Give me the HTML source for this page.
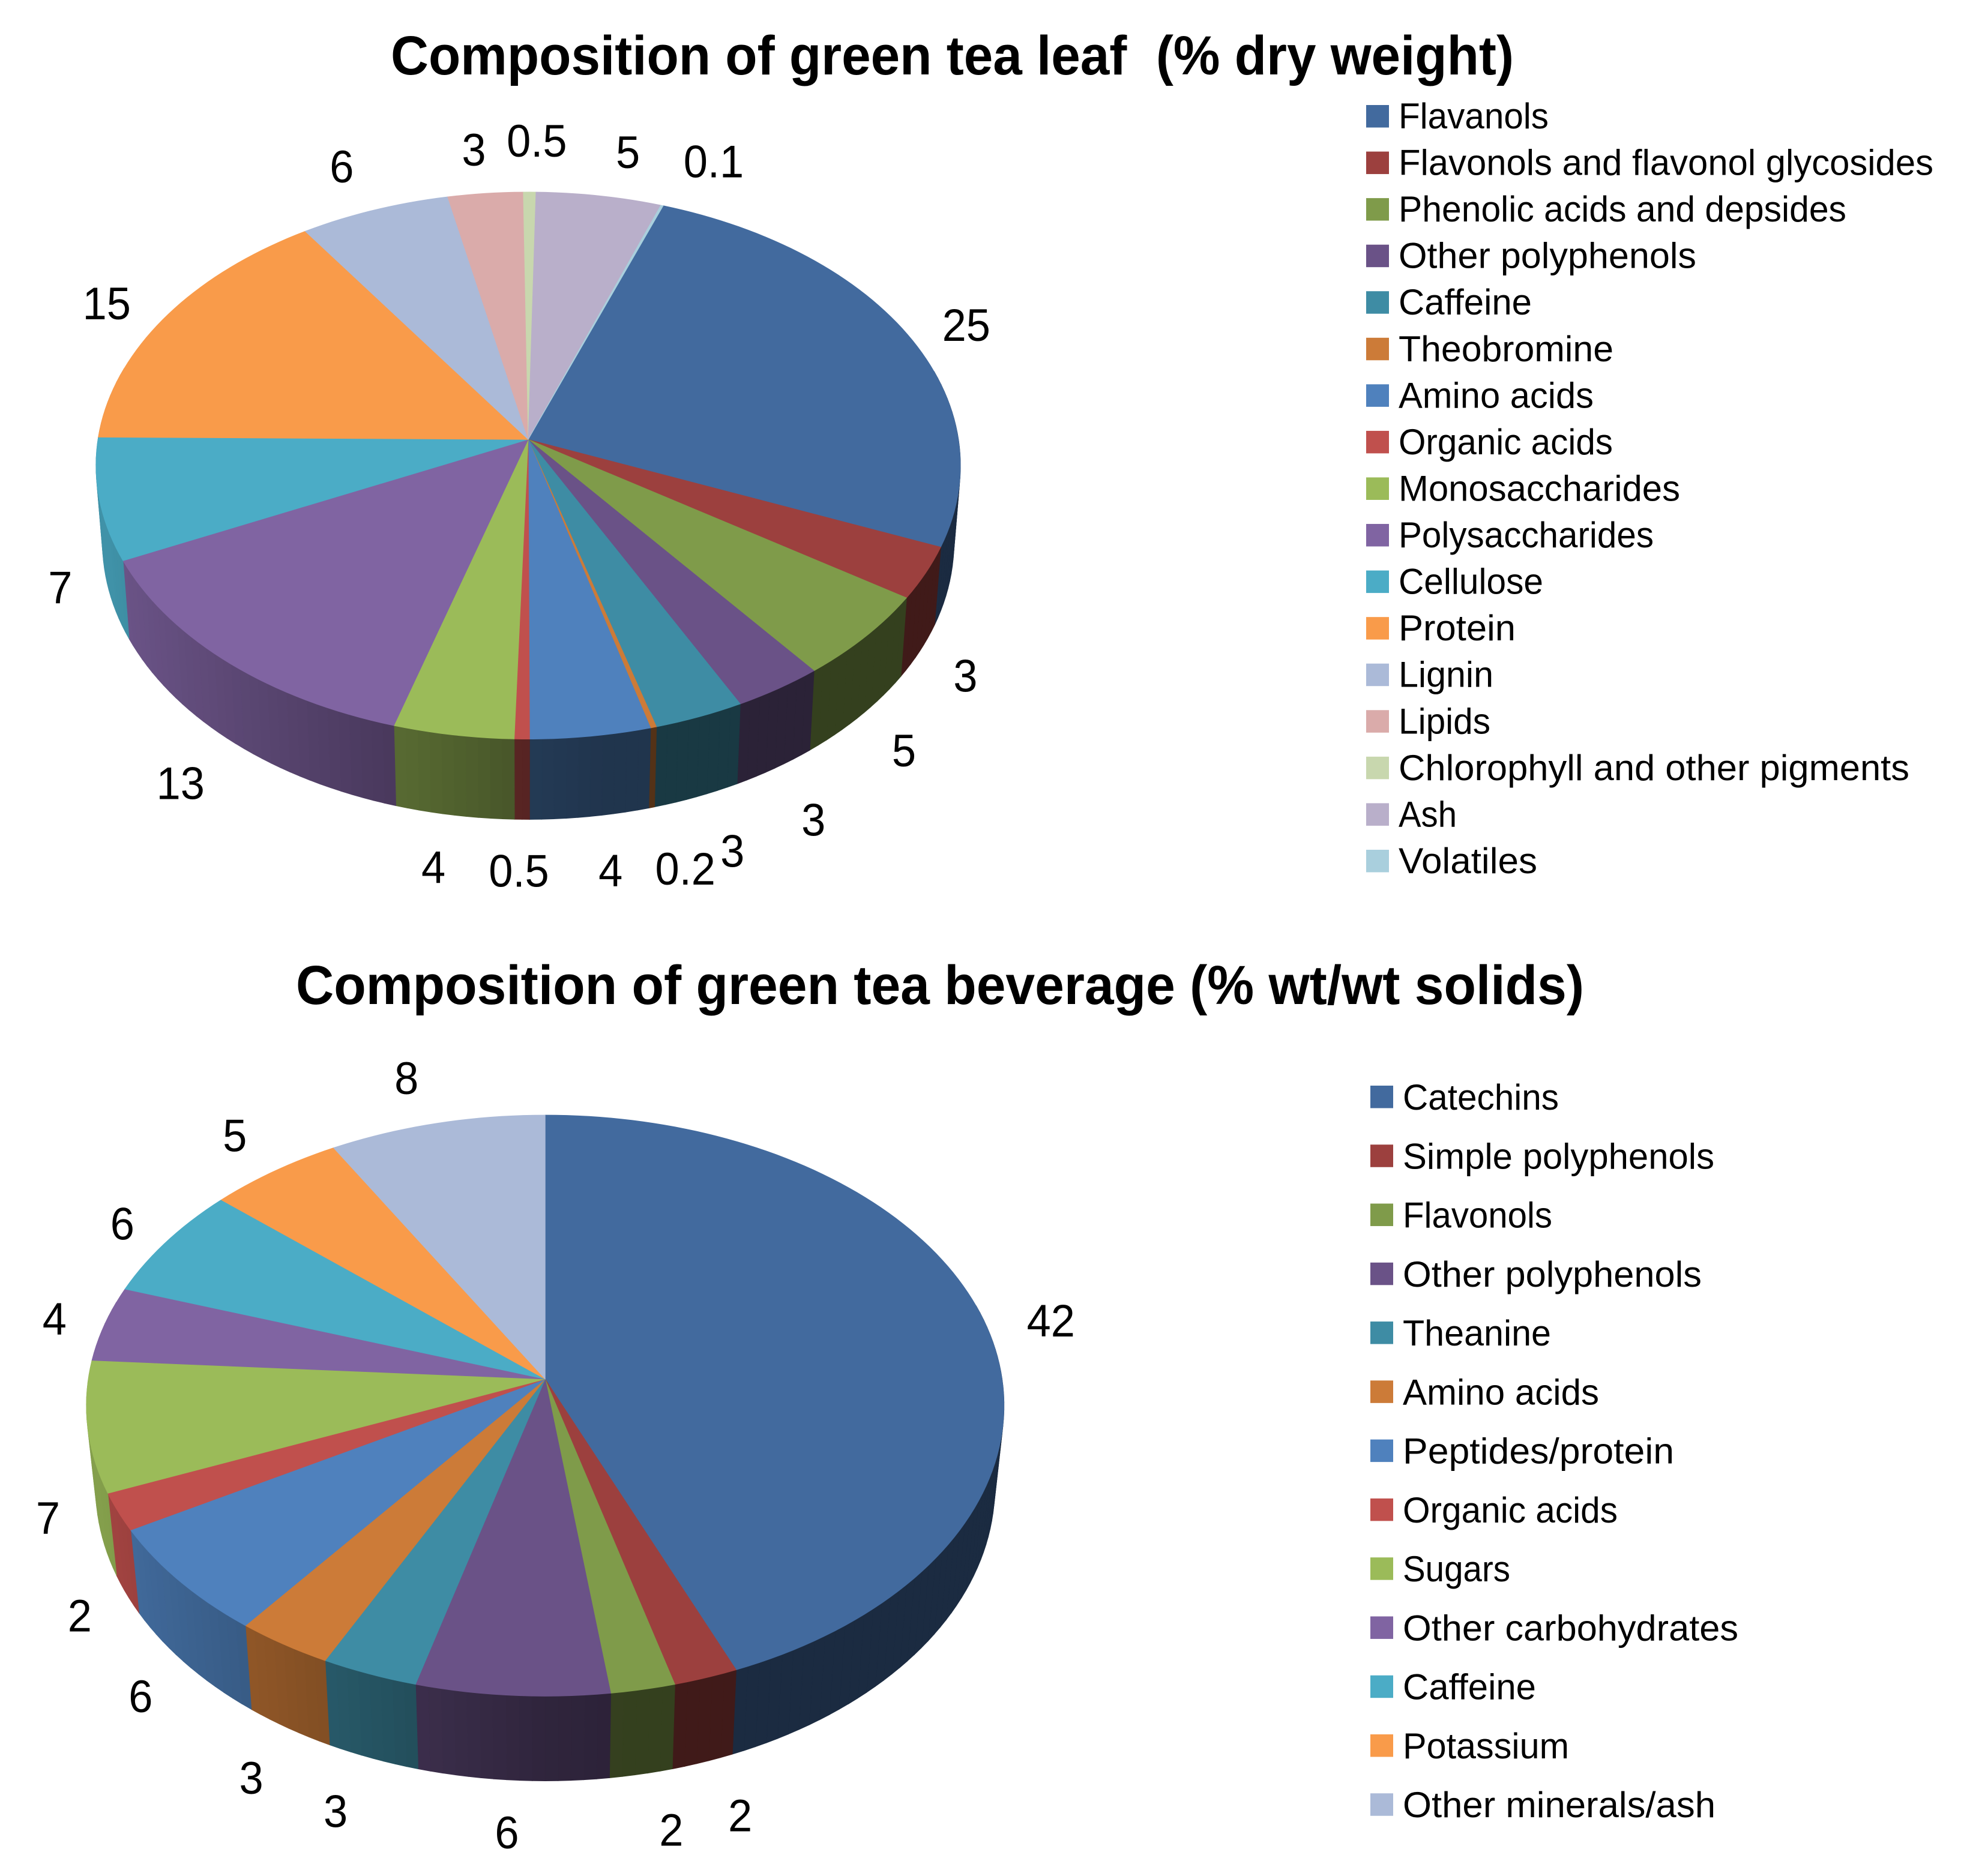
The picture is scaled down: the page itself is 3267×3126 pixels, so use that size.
<!DOCTYPE html>
<html lang="en">
<head>
<meta charset="utf-8">
<title>Composition of green tea</title>
<style>
html,body{margin:0;padding:0;background:#fff;width:3267px;height:3126px;overflow:hidden}
svg{display:block}
text{font-family:"Liberation Sans",sans-serif;fill:#000;white-space:pre}
.title{font-size:92px;font-weight:bold}
.lab{font-size:76px;text-anchor:middle}
.leg{font-size:60px}
</style>
</head>
<body>
<svg id="chart" xmlns="http://www.w3.org/2000/svg" width="3267" height="3126" viewBox="0 0 3267 3126">
  <rect width="3267" height="3126" fill="#ffffff"/>
  <text class="title" x="651" y="124" textLength="1871" lengthAdjust="spacingAndGlyphs">Composition of green tea leaf  (% dry weight)</text>
  <text class="title" x="493" y="1673" textLength="2146" lengthAdjust="spacingAndGlyphs">Composition of green tea beverage (% wt/wt solids)</text>
  <g id="leaf-pie"></g>
  <g id="leaf-legend"></g>
  <g id="bev-pie"></g>
  <g id="bev-legend"></g>
</svg>
<script>
const leafCategories = ["Flavanols","Flavonols and flavonol glycosides","Phenolic acids and depsides","Other polyphenols","Caffeine","Theobromine","Amino acids","Organic acids","Monosaccharides","Polysaccharides","Cellulose","Protein","Lignin","Lipids","Chlorophyll and other pigments","Ash","Volatiles"];
const leafValues = [25,3,5,3,3,0.2,4,0.5,4,13,7,15,6,3,0.5,5,0.1];
const beverageCategories = ["Catechins","Simple polyphenols","Flavonols","Other polyphenols","Theanine","Amino acids","Peptides/protein","Organic acids","Sugars","Other carbohydrates","Caffeine","Potassium","Other minerals/ash"];
const beverageValues = [42,2,2,6,3,3,6,2,7,4,6,5,8];
const seriesColors = ["#426a9e","#9c403e","#7f9b4a","#6a5287","#3e8ca4","#cc7b38","#4f81bd","#c0504d","#9bbb59","#8064a2","#4bacc6","#f99b4a","#abbad8","#daabaa","#c8d7ae","#b9afca","#a9cfdd"];

const leafLabelOffsets = [[98,-16],[66,171],[64,189],[58,218],[55,223],[53,235],[33,223],[-5,219],[-33,220],[-77,202],[-65,146],[-98,-23],[-54,-73],[-19,-73],[12,-86],[48,-73],[86,-74]];
const bevLabelOffsets = [[109,-6],[57,229],[47,233],[-9,228],[-56,228],[-54,222],[-65,191],[-64,172],[-66,151],[-84,-9],[-74,-30],[-66,-60],[-50,-76]];
const leafLegendWidths = [250,891,746,496,222,358,325,357,469,425,241,195,158,153,851,97,231];
const bevLegendWidths = [260,519,249,498,247,327,452,358,179,559,222,277,521];

const NS = "http://www.w3.org/2000/svg";
const slug = s => s.toLowerCase().replace(/[^a-z0-9]+/g,"-");

function shade(hex, f){
  const n = parseInt(hex.slice(1),16);
  const c = [n>>16&255, n>>8&255, n&255].map(v=>Math.round(v*f));
  return "rgb("+c.join(",")+")";
}

function sideFactor(u){
  if(u<0) return Math.min(0.85,0.45-0.42*u);
  return Math.max(0.41,0.45-0.25*u);
}

function drawPie(root, geo, categories, values, offsets){
  const total = values.reduce((a,b)=>a+b,0);
  const project = deg => {
    const t = deg*Math.PI/180, u = Math.sin(t), v = -Math.cos(t), w = 1-geo.k*v;
    return {u, v, x: geo.cx+geo.a*u/w, y: geo.cy+geo.b*v/w};
  };
  const bottom = p => ({
    x: geo.cx+(p.x-geo.cx)*geo.s,
    y: p.y+geo.d0+geo.d1*p.v
  });
  const sides = document.createElementNS(NS,"g");
  
  
  const tops = document.createElementNS(NS,"g");
  
  
  const labels = document.createElementNS(NS,"g");
  
  
  root.appendChild(sides);
  root.appendChild(tops);
  root.appendChild(labels);

  let acc = 0;
  values.forEach((val,i)=>{
    const a0 = geo.start+acc/total*360;
    const a1 = geo.start+(acc+val)/total*360;
    const color = seriesColors[i];
    const n = Math.max(1,Math.ceil((a1-a0)/1.5));
    const rim = [];
    for(let j=0;j<=n;j++) rim.push(project(a0+(a1-a0)*j/n));

    for(let j=0;j<n;j++){
      const p = rim[j], q = rim[j+1];
      if(p.v<-0.25 && q.v<-0.25) continue;
      const pb = bottom(p), qb = bottom(q);
      const um = (p.u+q.u)/2;
      const f = sideFactor(um);
      const seg = document.createElementNS(NS,"path");
      seg.setAttribute("d","M"+p.x+" "+p.y+"L"+q.x+" "+q.y+"L"+qb.x+" "+qb.y+"L"+pb.x+" "+pb.y+"Z");
      seg.setAttribute("fill",shade(color,f));
      seg.setAttribute("stroke",shade(color,f));
      seg.setAttribute("stroke-width","1");
      
      
      sides.appendChild(seg);
    }

    const top = document.createElementNS(NS,"path");
    top.setAttribute("d","M"+geo.cx+" "+geo.cy+rim.map(p=>"L"+p.x+" "+p.y).join("")+"Z");
    top.setAttribute("fill",color);
    top.setAttribute("stroke",color);
    top.setAttribute("stroke-width","0.8");
    
    
    tops.appendChild(top);

    const mid = project((a0+a1)/2);
    const t = document.createElementNS(NS,"text");
    t.setAttribute("class","lab");
    t.setAttribute("x",mid.x+offsets[i][0]);
    t.setAttribute("y",mid.y+offsets[i][1]+27);
    
    
    t.textContent = String(val);
    labels.appendChild(t);
    t.setAttribute("textLength",(t.getComputedTextLength()*0.95).toFixed(1));
    t.setAttribute("lengthAdjust","spacingAndGlyphs");
    acc += val;
  });
}

function drawLegend(root, lay, categories, widths){
  categories.forEach((name,i)=>{
    const g = document.createElementNS(NS,"g");
    
    
    const r = document.createElementNS(NS,"rect");
    r.setAttribute("x",lay.sx);
    r.setAttribute("y",lay.sy+lay.step*i);
    r.setAttribute("width",38);
    r.setAttribute("height",37.5);
    r.setAttribute("fill",seriesColors[i]);
    
    
    const t = document.createElementNS(NS,"text");
    t.setAttribute("class","leg");
    t.setAttribute("x",lay.tx);
    t.setAttribute("y",lay.by+lay.step*i);
    t.setAttribute("textLength",widths[i]);
    t.setAttribute("lengthAdjust","spacingAndGlyphs");
    
    
    t.textContent = name;
    g.appendChild(r);
    g.appendChild(t);
    root.appendChild(g);
  });
}

drawPie(document.getElementById("leaf-pie"),
  {cx:880,cy:732.3,a:716.8,b:451.7,k:0.0954,start:20,s:0.985,d0:127,d1:6.7},
  leafCategories, leafValues, leafLabelOffsets);
drawPie(document.getElementById("bev-pie"),
  {cx:908.3,cy:2298,a:761.2,b:480.2,k:0.0913,start:0,s:0.98,d0:134,d1:7},
  beverageCategories, beverageValues, bevLabelOffsets);
drawLegend(document.getElementById("leaf-legend"),
  {sx:2276,sy:175,tx:2330,by:214,step:77.56}, leafCategories, leafLegendWidths);
drawLegend(document.getElementById("bev-legend"),
  {sx:2283,sy:1809,tx:2337,by:1849,step:98.27}, beverageCategories, bevLegendWidths);
</script>
</body>
</html>
